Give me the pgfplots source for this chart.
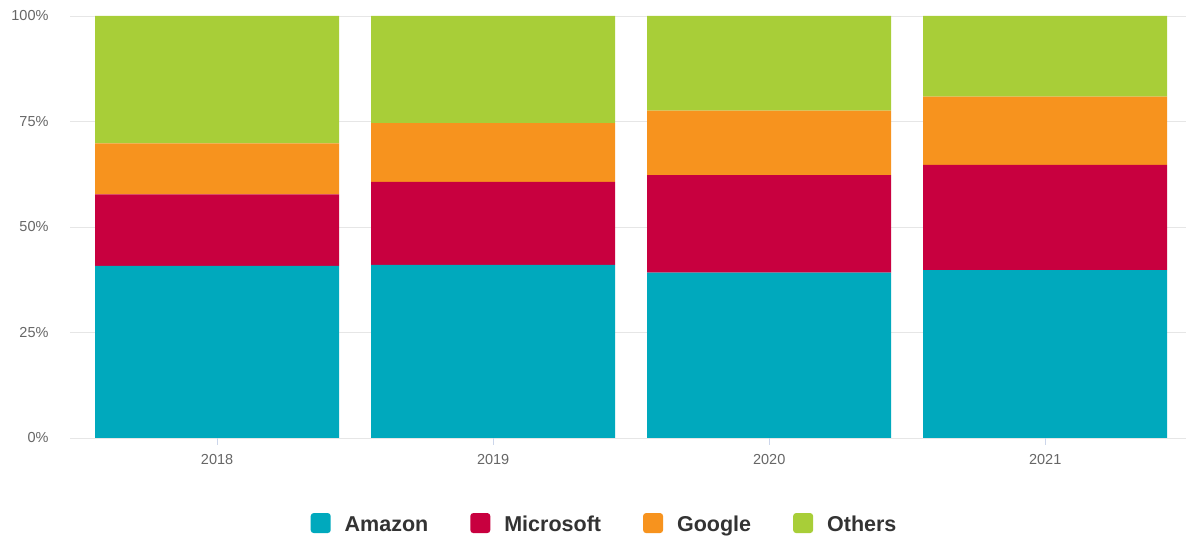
\documentclass[border=0pt]{standalone}
\usepackage{pgfplots}
\pgfplotsset{compat=1.18}
\usepackage{fontspec}
\setmainfont{Liberation Sans}
\definecolor{amazon}{HTML}{00A9BD}
\definecolor{microsoft}{HTML}{C8003F}
\definecolor{google}{HTML}{F7931E}
\definecolor{others}{HTML}{A8CE38}
\definecolor{ticktext}{HTML}{666666}
\definecolor{gridc}{HTML}{E6E6E6}
\definecolor{axisc}{HTML}{CCD6EB}
\begin{document}
\begin{tikzpicture}[x=1pt,y=1pt]
\useasboundingbox (0,0) rectangle (1186,537);
\begin{axis}[
  at={(70pt,99pt)}, anchor=south west,
  width=1116pt, height=422pt, scale only axis,
  ybar stacked, bar width=0.884,
  xmin=-0.533, xmax=3.51, ymin=0, ymax=100,
  xtick={0,1,2,3}, xticklabels={2018,2019,2020,2021},
  ytick={0,25,50,75,100},
  yticklabel={\pgfmathprintnumber{\tick}\%},
  /pgf/number format/assume math mode=true,
  axis line style={draw=none},
  ymajorgrids, grid style={draw=gridc, line width=0.8pt},
  xtick style={draw=axisc, line width=0.8pt},
  ytick style={draw=none},
  tick pos=bottom,
  major tick length=7pt, tick align=outside,
  tick label style={font=\fontsize{14.5}{16}\selectfont, text=ticktext},
  yticklabel style={xshift=-11pt},
  xticklabel style={yshift=-6pt},
  legend style={at={(axis description cs:0.479,-0.204)}, anchor=center,
    draw=none, legend columns=4,
    font=\fontsize{21.5}{24}\selectfont\bfseries, text=black!80,
    /tikz/every even column/.style={column sep=40pt}},
  legend image code/.code={\fill[#1, rounded corners=3pt] (0pt,-8.5pt) rectangle (20pt,11.5pt);
    \path (32pt,0pt);},
]
\addplot[fill=amazon, draw=none] coordinates {(0,40.8) (1,41.0) (2,39.2) (3,39.8)};
\addplot[fill=microsoft, draw=none] coordinates {(0,16.9) (1,19.7) (2,23.1) (3,24.9)};
\addplot[fill=google, draw=none] coordinates {(0,12.1) (1,13.9) (2,15.3) (3,16.2)};
\addplot[fill=others, draw=none] coordinates {(0,30.2) (1,25.4) (2,22.4) (3,19.1)};
\legend{Amazon, Microsoft, Google, Others}
\draw[axisc, line width=0.8pt] (axis description cs:0,0) -- (axis description cs:1,0);
\end{axis}
\end{tikzpicture}
\end{document}
